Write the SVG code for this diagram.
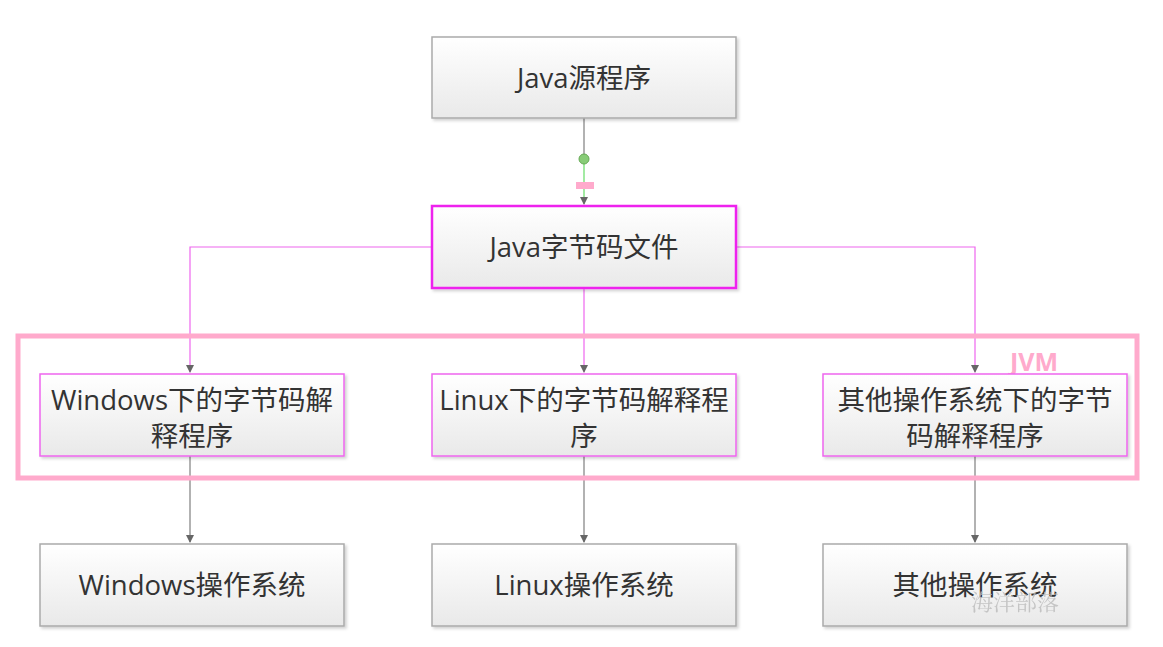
<svg xmlns="http://www.w3.org/2000/svg" width="1163" height="647" viewBox="0 0 1163 647">
<defs>
<linearGradient id="g" x1="0" y1="0" x2="0" y2="1">
<stop offset="0" stop-color="#ffffff"/>
<stop offset="1" stop-color="#e9e9e9"/>
</linearGradient>
<filter id="sh" x="-5%" y="-5%" width="112%" height="120%">
<feDropShadow dx="2" dy="2" stdDeviation="1.5" flood-color="#000" flood-opacity="0.18"/>
</filter>
<marker id="ag" markerWidth="10" markerHeight="10" refX="8" refY="5" orient="auto" markerUnits="userSpaceOnUse">
<path d="M1,1 L9,5 L1,9 Z" fill="#666"/>
</marker>
</defs>
<style>
.box{fill:url(#g);stroke:#aaaaaa;stroke-width:1.5;filter:url(#sh)}
.mbox{fill:url(#g);stroke:#ee66ee;stroke-width:1.5;filter:url(#sh)}
.t{font-family:"Open Sans","Noto Sans CJK SC",sans-serif;font-size:27.5px;fill:#333;text-anchor:middle}
.mag{stroke:#ee66ee;stroke-width:1.2;fill:none}
.gray{stroke:#999;stroke-width:1.5;fill:none}
</style>
<rect width="1163" height="647" fill="#fff"/>
<g id="connectors">
<path class="gray" d="M584,118 V158"/>
<path d="M584,160 V204" stroke="#66dd66" stroke-width="1.2" fill="none" marker-end="url(#ag)"/>
<circle cx="584" cy="159" r="5" fill="#88cc77" stroke="#66aa55" stroke-width="1"/>
<rect x="576" y="182" width="18" height="7" fill="#ffaacc"/>
<path class="mag" d="M432,247 H190 V372" marker-end="url(#ag)"/>
<path class="mag" d="M736,247 H975 V372" marker-end="url(#ag)"/>
<path class="mag" d="M584,288 V372" marker-end="url(#ag)"/>
<path class="gray" d="M190,456 V542" marker-end="url(#ag)"/>
<path class="gray" d="M584,456 V542" marker-end="url(#ag)"/>
<path class="gray" d="M975,456 V542" marker-end="url(#ag)"/>
</g>
<g id="jvm">
<rect x="18" y="336" width="1119" height="142" fill="none" stroke="#ffaacc" stroke-width="5"/>
<text x="1034" y="371" font-family="'Open Sans','Liberation Sans',sans-serif" font-size="25" font-weight="bold" fill="#ffaacc" text-anchor="middle">JVM</text>
</g>
<g id="n-src">
<rect class="box" x="432" y="37" width="304" height="81"/>
<text class="t" x="584" y="88">Java源程序</text>
</g>
<g id="n-bytecode">
<rect class="box" x="432" y="206" width="304" height="82" style="stroke:#ee22ee;stroke-width:2.5"/>
<text class="t" x="584" y="257">Java字节码文件</text>
</g>
<g id="n-win-jvm">
<rect class="mbox" x="40" y="374" width="304" height="82"/>
<text class="t" x="192" y="410">Windows下的字节码解</text>
<text class="t" x="192" y="446">释程序</text>
</g>
<g id="n-linux-jvm">
<rect class="mbox" x="432" y="374" width="304" height="82"/>
<text class="t" x="584" y="410">Linux下的字节码解释程</text>
<text class="t" x="584" y="446">序</text>
</g>
<g id="n-other-jvm">
<rect class="mbox" x="823" y="374" width="304" height="82"/>
<text class="t" x="975" y="410">其他操作系统下的字节</text>
<text class="t" x="975" y="446">码解释程序</text>
</g>
<g id="n-win-os">
<rect class="box" x="40" y="544" width="304" height="82"/>
<text class="t" x="192" y="595">Windows操作系统</text>
</g>
<g id="n-linux-os">
<rect class="box" x="432" y="544" width="304" height="82"/>
<text class="t" x="584" y="595">Linux操作系统</text>
</g>
<g id="n-other-os">
<rect class="box" x="823" y="544" width="304" height="82"/>
<text class="t" x="975" y="595">其他操作系统</text>
</g>
<text x="1015" y="610" font-family="'Noto Serif CJK SC','Noto Sans CJK SC',serif" font-size="22" fill="#bbbbbb" text-anchor="middle" opacity="0.8">海洋部落</text>
</svg>
